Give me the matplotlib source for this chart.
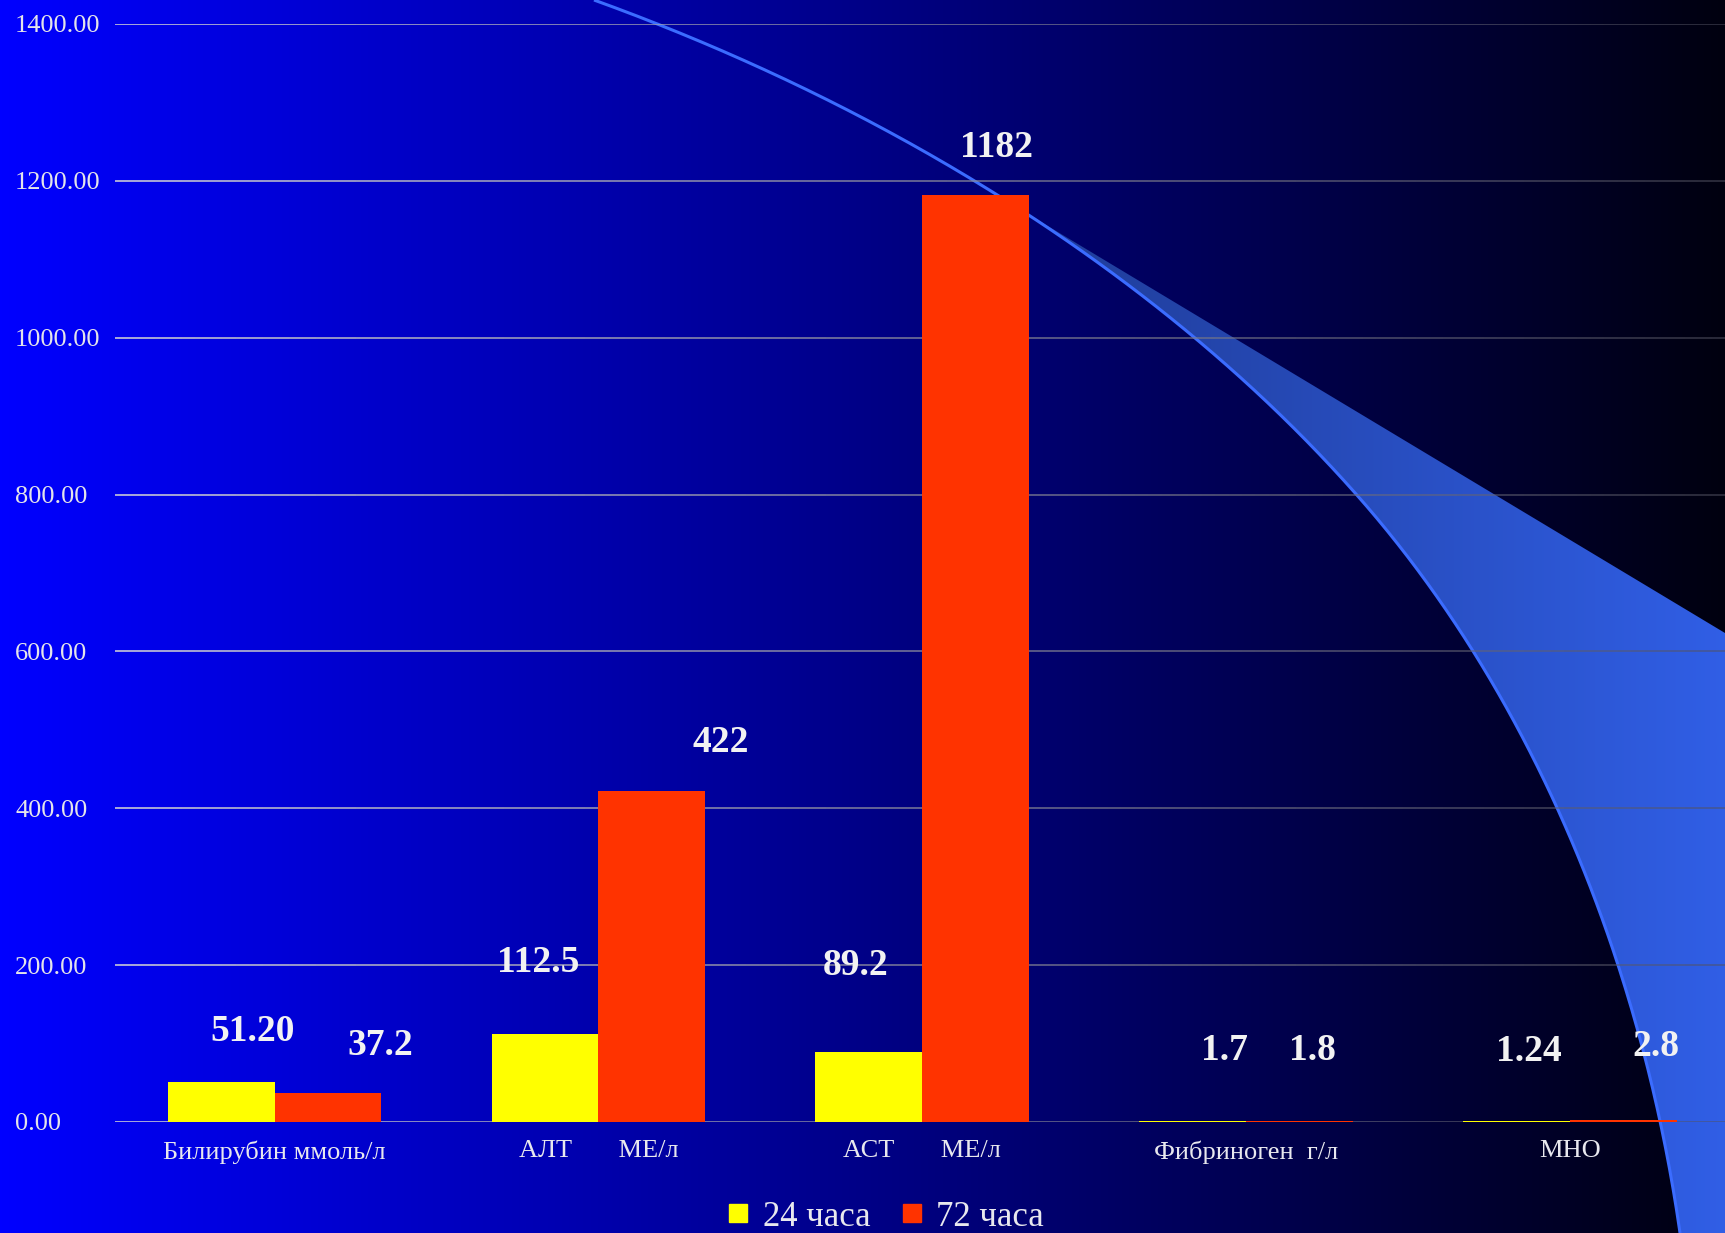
import numpy as np
import matplotlib.pyplot as plt
from matplotlib.patches import Polygon
from matplotlib.collections import LineCollection
from matplotlib.lines import Line2D

plt.rcParams['font.family'] = ['Liberation Serif', 'DejaVu Serif']

# liver / coagulation tests, 24 h vs 72 h
categories = ['Билирубин ммоль/л', 'АЛТ       МЕ/л', 'АСТ       МЕ/л',
              'Фибриноген  г/л', 'МНО']
vals_24 = [51.20, 112.5, 89.2, 1.7, 1.24]
vals_72 = [37.2, 422, 1182, 1.8, 2.8]
text_24 = ['51.20', '112.5', '89.2', '1.7', '1.24']
text_72 = ['37.2', '422', '1182', '1.8', '2.8']
series_names = ['24 часа', '72 часа']
yticks = [0, 200, 400, 600, 800, 1000, 1200, 1400]

# value label offsets (pixels) from the top centre of each bar
off_24 = [(31, 50), (-7, 71), (-13, 87), (32, 70), (12, 70)]
off_72 = [(52, 47), (69, 49), (21, 47), (13, 70), (33, 73)]

W, H = 1725, 1233
fig = plt.figure(figsize=(W / 100, H / 100), dpi=100)

# ---- background: blue -> black gradient plus the swoosh
bg = fig.add_axes([0, 0, 1, 1], zorder=-1)
bg.set_xlim(0, W)
bg.set_ylim(H, 0)
bg.axis('off')
g = np.linspace(1.0, 0.06, 512)
grad = np.zeros((2, 512, 3))
grad[..., 2] = g
bg.imshow(grad, extent=[0, W, H, 0], aspect='auto', interpolation='bilinear')


def bezier(p0, p1, p2, p3, n=200):
    t = np.linspace(0, 1, n)[:, None]
    p0, p1, p2, p3 = map(np.asarray, (p0, p1, p2, p3))
    return ((1 - t) ** 3 * p0 + 3 * (1 - t) ** 2 * t * p1
            + 3 * (1 - t) * t ** 2 * p2 + t ** 3 * p3)


arc = np.vstack([
    bezier((594, 0), (879, 103), (1157, 269), (1356, 494)),
    bezier((1356, 494), (1535, 696), (1642, 966), (1680, 1233))[1:],
])
part = arc[arc[:, 1] >= 207]
band = np.vstack([part, [[W, H], [W, 633]]])
poly = Polygon(band, closed=True, facecolor='none', edgecolor='none')
bg.add_patch(poly)
sg = np.zeros((2, 256, 3))
sg[..., 0] = np.linspace(0.12, 0.19, 256)
sg[..., 1] = np.linspace(0.23, 0.37, 256)
sg[..., 2] = np.linspace(0.58, 0.90, 256)
im = bg.imshow(sg, extent=[1000, W, H, 0], aspect='auto', interpolation='bilinear')
im.set_clip_path(poly)
bg.plot(arc[:, 0], arc[:, 1], color='#3b6cff', lw=2.2, solid_capstyle='butt')
bg.set_xlim(0, W)
bg.set_ylim(H, 0)

# ---- chart
left = 115 / W
ax = fig.add_axes([left, 111 / H, 1 - left, 1098 / H])
ax.set_facecolor('none')
ax.set_xlim(-0.493, 4.479)
ax.set_ylim(0, 1400)
for s in ax.spines.values():
    s.set_visible(False)

# gridlines fade from light grey to dark grey towards the right
nseg = 120
xs = np.linspace(-0.493, 4.479, nseg + 1)
frac = np.linspace(0, 1, nseg)
cols = np.column_stack([0.80 - 0.48 * frac, 0.80 - 0.48 * frac,
                        0.84 - 0.46 * frac, 0.9 - 0.35 * frac])
for yv in yticks:
    segs = [[(xs[i], yv), (xs[i + 1], yv)] for i in range(nseg)]
    ax.add_collection(LineCollection(segs, colors=cols, linewidths=1.3, zorder=1))

x = np.arange(len(categories))
w = 0.33
ax.bar(x - w / 2, vals_24, w, color='#ffff00', zorder=3)
ax.bar(x + w / 2, vals_72, w, color='#ff3300', zorder=3)

for xi, v, t, (dx, dy) in zip(x - w / 2, vals_24, text_24, off_24):
    ax.annotate(t, (xi, v), xytext=(dx * 0.72, dy * 0.72), textcoords='offset points',
                ha='center', va='center', fontsize=27, fontweight='bold', color='#f2f2f2')
for xi, v, t, (dx, dy) in zip(x + w / 2, vals_72, text_72, off_72):
    ax.annotate(t, (xi, v), xytext=(dx * 0.72, dy * 0.72), textcoords='offset points',
                ha='center', va='center', fontsize=27, fontweight='bold', color='#f2f2f2')

ax.set_yticks(yticks)
ax.set_yticklabels([f'{v:.2f}' for v in yticks])
ax.tick_params(axis='y', length=0, pad=72, labelsize=19, labelcolor='#e4e4ea')
for lab in ax.get_yticklabels():
    lab.set_horizontalalignment('left')
ax.set_xticks(x)
ax.set_xticklabels(categories)
ax.tick_params(axis='x', length=0, pad=13, labelsize=19, labelcolor='#e8e8ee')

handles = [Line2D([], [], marker='s', ls='none', markersize=13, color='#ffff00'),
           Line2D([], [], marker='s', ls='none', markersize=13, color='#ff3300')]
fig.legend(handles, series_names, loc='center', bbox_to_anchor=(886 / W, 1 - 1217 / H),
           ncol=2, frameon=False, fontsize=25, labelcolor='#e8e8ee',
           handlelength=0.6, handletextpad=0.4, columnspacing=0.9, borderpad=0)

fig.savefig('out.png', dpi=100)
